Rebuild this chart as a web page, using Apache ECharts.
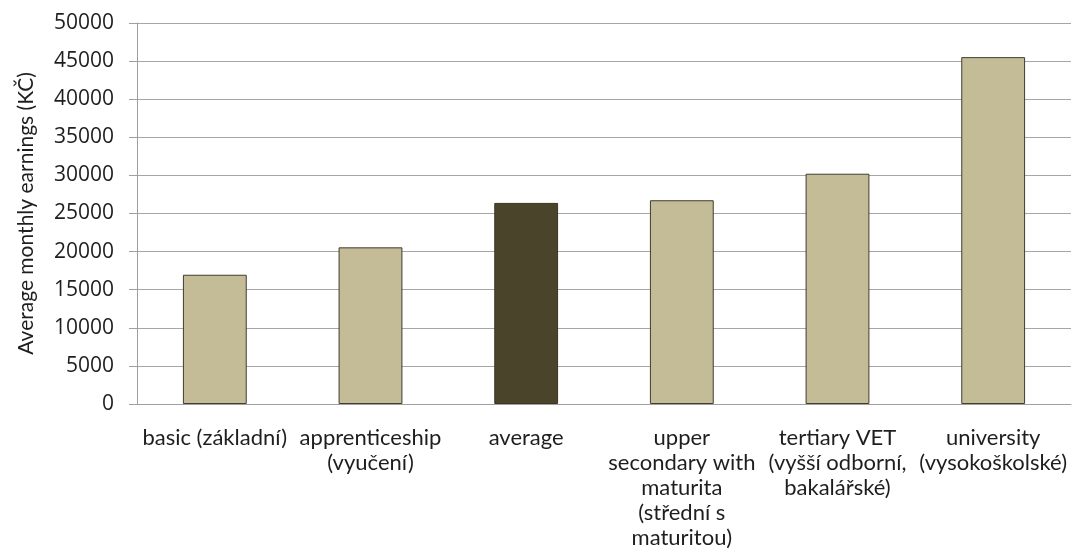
<!DOCTYPE html>
<html>
<head>
<meta charset="utf-8">
<script src="https://cdn.jsdelivr.net/npm/echarts@6/dist/echarts.min.js"></script>
<style>
html,body{margin:0;padding:0;background:#fff;}
#chart{width:1072px;height:553px;}
</style>
</head>
<body>
<div id="chart"></div>
<script>
const categories = [
  "basic (základní)",
  "apprenticeship\n(vyučení)",
  "average",
  "upper\nsecondary with\nmaturita\n(střední s\nmaturitou)",
  "tertiary VET\n(vyšší odborní,\nbakalářské)",
  "university\n(vysokoškolské)"
];
const earnings = [16960, 20560, 26390, 26740, 30220, 45520];
const highlightIndex = 2;
const yTicks = { min: 0, max: 50000, interval: 5000 };
const yTitle = "Average monthly earnings (KČ)";

const FONT = "Lato";
const chart = echarts.init(document.getElementById('chart'), null, {renderer: 'canvas'});
chart.setOption({
  animation: false,
  backgroundColor: '#ffffff',
  grid: { left: 137, right: 1, top: 23, bottom: 149, containLabel: false },
  xAxis: {
    type: 'category',
    data: categories,
    axisLine: { show: true, lineStyle: { color: '#a0a0a0', width: 1 } },
    axisTick: { show: false },
    axisLabel: {
      interval: 0,
      margin: 21,
      fontFamily: FONT,
      fontSize: 22,
      lineHeight: 25,
      color: '#1e1e1e'
    }
  },
  yAxis: {
    type: 'value',
    min: yTicks.min,
    max: yTicks.max,
    interval: yTicks.interval,
    name: yTitle,
    nameLocation: 'middle',
    nameGap: 100,
    nameRotate: 90,
    nameTextStyle: { fontFamily: FONT, fontSize: 21, color: '#1e1e1e' },
    axisLine: { show: true, lineStyle: { color: '#a0a0a0', width: 1 } },
    axisTick: { show: true, inside: false, length: 8, lineStyle: { color: '#a0a0a0' } },
    axisLabel: {
      margin: 23, fontFamily: "Open Sans", fontSize: 21, color: '#1e1e1e',
      formatter: function (v) { return String(v); }
    },
    splitLine: { show: true, lineStyle: { color: '#a6a6a6', width: 1 } }
  },
  series: [{
    type: 'bar',
    data: earnings.map((v, i) => ({
      value: v,
      itemStyle: i === highlightIndex
        ? { color: '#4a442a', borderColor: '#3a3526', borderWidth: 1 }
        : { color: '#c4bc96', borderColor: '#3f3c30', borderWidth: 1 }
    })),
    barCategoryGap: '59%'
  }]
});
</script>
</body>
</html>
